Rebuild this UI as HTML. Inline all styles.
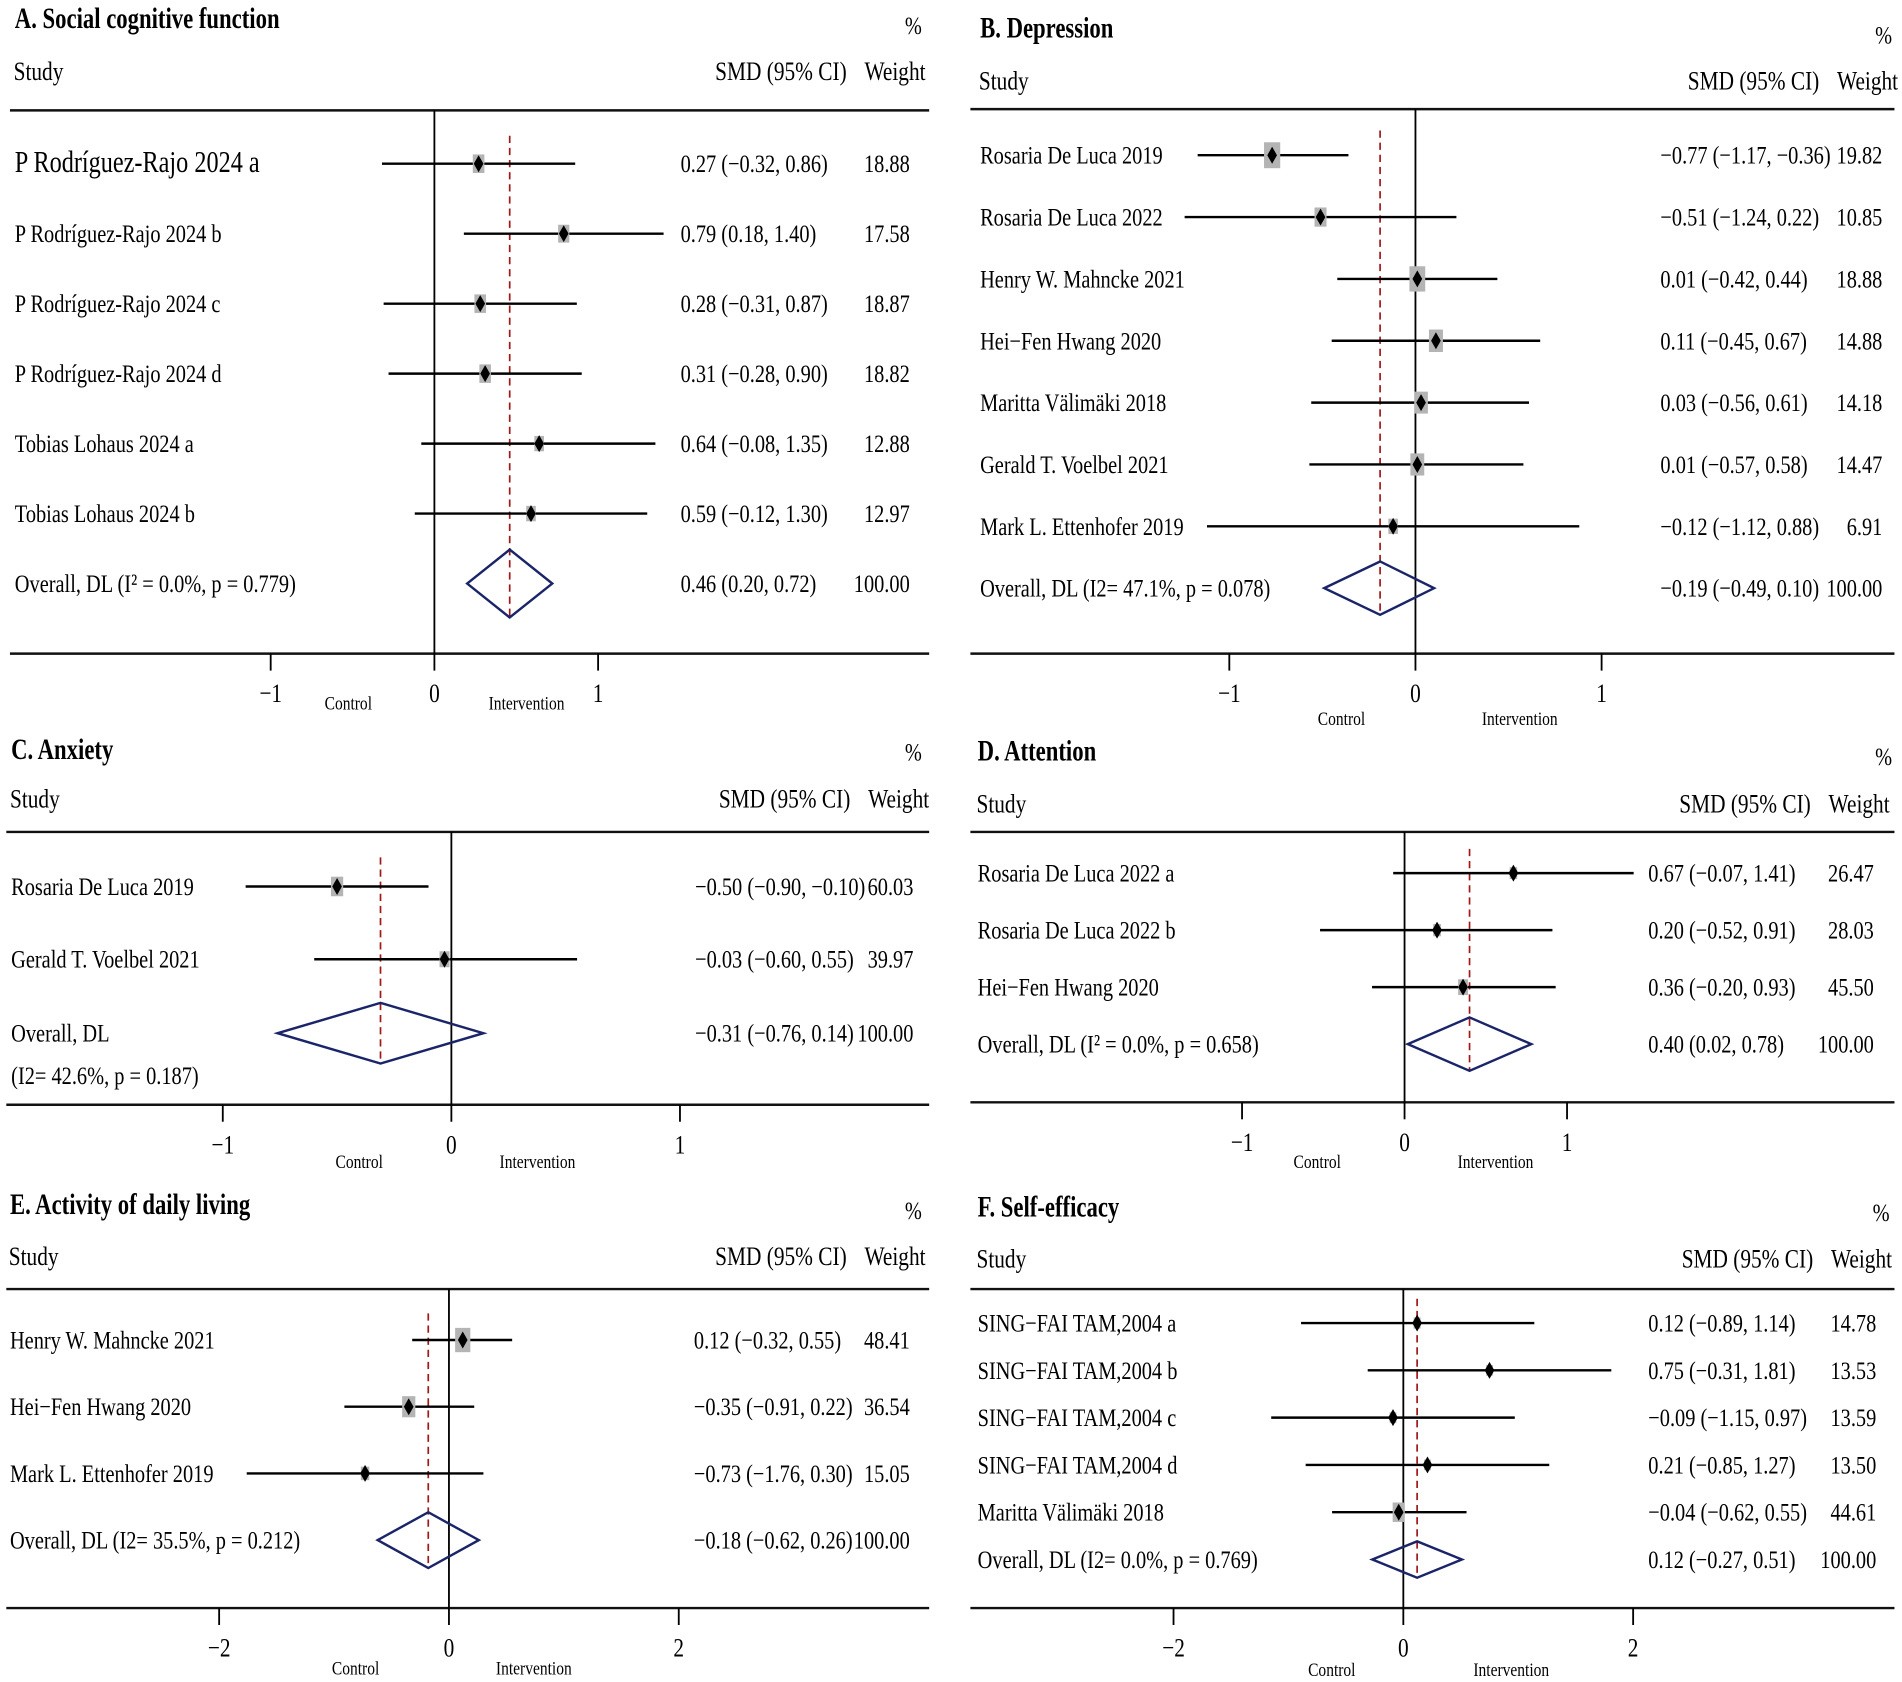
<!DOCTYPE html>
<html><head><meta charset="utf-8">
<style>
html,body{margin:0;padding:0;background:#fff;}
svg{display:block;}
text{font-family:"Liberation Serif",serif;fill:#000;}
</style></head>
<body>
<svg id="chart" width="1902" height="1682" viewBox="0 0 1568 1387" xmlns="http://www.w3.org/2000/svg"></svg>
<script>
// Panel A data
const aNames = ["P Rodríguez-Rajo 2024 a","P Rodríguez-Rajo 2024 b","P Rodríguez-Rajo 2024 c","P Rodríguez-Rajo 2024 d","Tobias Lohaus 2024 a","Tobias Lohaus 2024 b"];
const aEst = [0.27,0.79,0.28,0.31,0.64,0.59];
const aLo = [-0.32,0.18,-0.31,-0.28,-0.08,-0.12];
const aHi = [0.86,1.40,0.87,0.90,1.35,1.30];
const aW = [18.88,17.58,18.87,18.82,12.88,12.97];
const aOverall = [0.46,0.20,0.72];
const aTicks = [-1,0,1];
// Panel B data
const bNames = ["Rosaria De Luca 2019","Rosaria De Luca 2022","Henry W. Mahncke 2021","Hei−Fen Hwang 2020","Maritta Välimäki 2018","Gerald T. Voelbel 2021","Mark L. Ettenhofer 2019"];
const bEst = [-0.77,-0.51,0.01,0.11,0.03,0.01,-0.12];
const bLo = [-1.17,-1.24,-0.42,-0.45,-0.56,-0.57,-1.12];
const bHi = [-0.36,0.22,0.44,0.67,0.61,0.58,0.88];
const bW = [19.82,10.85,18.88,14.88,14.18,14.47,6.91];
const bOverall = [-0.19,-0.49,0.10];
const bTicks = [-1,0,1];
// Panel C data
const cNames = ["Rosaria De Luca 2019","Gerald T. Voelbel 2021"];
const cEst = [-0.50,-0.03];
const cLo = [-0.90,-0.60];
const cHi = [-0.10,0.55];
const cW = [60.03,39.97];
const cOverall = [-0.31,-0.76,0.14];
const cTicks = [-1,0,1];
// Panel D data
const dNames = ["Rosaria De Luca 2022 a","Rosaria De Luca 2022 b","Hei−Fen Hwang 2020"];
const dEst = [0.67,0.20,0.36];
const dLo = [-0.07,-0.52,-0.20];
const dHi = [1.41,0.91,0.93];
const dW = [26.47,28.03,45.50];
const dOverall = [0.40,0.02,0.78];
const dTicks = [-1,0,1];
// Panel E data
const eNames = ["Henry W. Mahncke 2021","Hei−Fen Hwang 2020","Mark L. Ettenhofer 2019"];
const eEst = [0.12,-0.35,-0.73];
const eLo = [-0.32,-0.91,-1.76];
const eHi = [0.55,0.22,0.30];
const eW = [48.41,36.54,15.05];
const eOverall = [-0.18,-0.62,0.26];
const eTicks = [-2,0,2];
// Panel F data
const fNames = ["SING−FAI TAM,2004 a","SING−FAI TAM,2004 b","SING−FAI TAM,2004 c","SING−FAI TAM,2004 d","Maritta Välimäki 2018"];
const fEst = [0.12,0.75,-0.09,0.21,-0.04];
const fLo = [-0.89,-0.31,-1.15,-0.85,-0.62];
const fHi = [1.14,1.81,0.97,1.27,0.55];
const fW = [14.78,13.53,13.59,13.50,44.61];
const fOverall = [0.12,-0.27,0.51];
const fTicks = [-2,0,2];

const NS = "http://www.w3.org/2000/svg";
const svg = document.getElementById('chart');
function mk(tag, attrs, parent){const e=document.createElementNS(NS,tag);for(const k in attrs)e.setAttribute(k,attrs[k]);(parent||svg).appendChild(e);return e;}
function txt(str,x,y,size,opts,parent){
  opts=opts||{};
  const t=mk('text',{transform:`translate(${x},${y}) scale(${opts.sx||0.8},1)`,'font-size':size,'text-anchor':opts.anchor||'start','font-weight':opts.bold?'bold':'normal'},parent);
  t.textContent=str;return t;
}
function fmt(v){return (v<0?'−':'')+Math.abs(v).toFixed(2);}

const panels = [
 {key:'a',title:'A. Social cognitive function',names:aNames,est:aEst,lo:aLo,hi:aHi,w:aW,ov:aOverall,ticks:aTicks,
  x0:8,x1:766,tx:12,titleY:23,pctX:760,pctY:28,studyY:66,topY:91,botY:539,zero:358,unit:135,rowY:135,rowStep:57.7,
  ovLabel:['Overall, DL (I² = 0.0%, p = 0.779)'],effX:561,wtX:750,k:2.2,dh:28,ctrlX:287,intX:434,ciY:585,firstBig:true},
 {key:'b',title:'B. Depression',names:bNames,est:bEst,lo:bLo,hi:bHi,w:bW,ov:bOverall,ticks:bTicks,
  x0:800,x1:1562,tx:808,titleY:31,pctX:1560,pctY:36,studyY:74,topY:90,botY:539,zero:1167,unit:153.5,rowY:128,rowStep:51,
  ovLabel:['Overall, DL (I2= 47.1%, p = 0.078)'],effX:1369,wtX:1552,k:3,dh:22,ctrlX:1106,intX:1253,ciY:598},
 {key:'c',title:'C. Anxiety',names:cNames,est:cEst,lo:cLo,hi:cHi,w:cW,ov:cOverall,ticks:cTicks,
  x0:5,x1:766,tx:9,titleY:626,pctX:760,pctY:627,studyY:666,topY:686,botY:911,zero:372,unit:188.5,rowY:731,rowStep:60,
  ovLabel:['Overall, DL','(I2= 42.6%, p = 0.187)'],effX:573,wtX:753,k:1.3,dh:25,ctrlX:296,intX:443,ciY:963,ovY:852},
 {key:'d',title:'D. Attention',names:dNames,est:dEst,lo:dLo,hi:dHi,w:dW,ov:dOverall,ticks:dTicks,
  x0:800,x1:1562,tx:806,titleY:627,pctX:1560,pctY:631,studyY:670,topY:686,botY:909,zero:1158,unit:134,rowY:720,rowStep:47,
  ovLabel:['Overall, DL (I² = 0.0%, p = 0.658)'],effX:1359,wtX:1545,k:1.2,dh:22,ctrlX:1086,intX:1233,ciY:963},
 {key:'e',title:'E. Activity of daily living',names:eNames,est:eEst,lo:eLo,hi:eHi,w:eW,ov:eOverall,ticks:eTicks,
  x0:5,x1:766,tx:8,titleY:1001,pctX:760,pctY:1005,studyY:1043,topY:1063,botY:1326,zero:370,unit:94.75,rowY:1105,rowStep:55,
  ovLabel:['Overall, DL (I2= 35.5%, p = 0.212)'],effX:572,wtX:750,k:1.8,dh:23,ctrlX:293,intX:440,ciY:1381},
 {key:'f',title:'F. Self-efficacy',names:fNames,est:fEst,lo:fLo,hi:fHi,w:fW,ov:fOverall,ticks:fTicks,
  x0:800,x1:1562,tx:806,titleY:1003,pctX:1558,pctY:1007,studyY:1045,topY:1063,botY:1326,zero:1157,unit:94.75,rowY:1091,rowStep:39,
  ovLabel:['Overall, DL (I2= 0.0%, p = 0.769)'],effX:1359,wtX:1547,k:1.5,dh:15,ctrlX:1098,intX:1246,ciY:1382}
];

panels.forEach(p=>{
  const g=mk('g',{});
  
  
  const X=v=>p.zero+v*p.unit;
  const t1=txt(p.title,p.tx,p.titleY,24,{bold:true,sx:0.78},g);
  
  
  txt('%',p.pctX,p.pctY,21,{anchor:'end'},g);
  txt('Study',p.tx-1,p.studyY,22,{},g);
  txt('SMD (95% CI)',p.wtX-52,p.studyY,22,{anchor:'end'},g);
  txt('Weight',p.wtX+13,p.studyY,22,{anchor:'end'},g);
  mk('line',{x1:p.x0,x2:p.x1,y1:p.topY,y2:p.topY,stroke:'#111','stroke-width':2},g);
  mk('line',{x1:p.x0,x2:p.x1,y1:p.botY,y2:p.botY,stroke:'#111','stroke-width':2},g);
  mk('line',{x1:X(0),x2:X(0),y1:p.topY,y2:p.botY,stroke:'#000','stroke-width':1.5},g);
  const n=p.names.length;
  const ovY=p.ovY||(p.rowY+n*p.rowStep);
  const rowTop=p.rowY-p.rowStep*0.4;
  const red=mk('line',{x1:X(p.ov[0]),x2:X(p.ov[0]),y1:Math.min(rowTop,p.rowY-20),y2:ovY+p.dh,stroke:'#a01818','stroke-width':1.4,'stroke-dasharray':'6,4'},g);
  
  
  for(let i=0;i<n;i++){
    const y=p.rowY+i*p.rowStep;
    txt(p.names[i],p.tx,y+7,(p.firstBig&&i===0)?25:21,{},g);
    const ci=mk('line',{x1:X(p.lo[i]),x2:X(p.hi[i]),y1:y,y2:y,stroke:'#000','stroke-width':2},g);
    
    
    const bw=p.k*Math.sqrt(p.w[i]), bh=bw*1.6;
    const box=mk('rect',{x:X(p.est[i])-bw/2,y:y-bh/2,width:bw,height:bh,fill:'#b4b4b4'},g);
    
    
    const xe=X(p.est[i]);
    mk('polygon',{points:`${xe-4},${y} ${xe},${y-7} ${xe+4},${y} ${xe},${y+7}`,fill:'#000'},g);
    txt(`${fmt(p.est[i])} (${fmt(p.lo[i])}, ${fmt(p.hi[i])})`,p.effX,y+7,21,{},g);
    txt(p.w[i].toFixed(2),p.wtX,y+7,21,{anchor:'end'},g);
  }
  // overall
  if(p.ovLabel.length===1){txt(p.ovLabel[0],p.tx,ovY+7,21,{},g);}
  else{txt(p.ovLabel[0],p.tx,ovY+7,21,{},g);txt(p.ovLabel[1],p.tx,ovY+42,21,{},g);}
  const dm=mk('polygon',{points:`${X(p.ov[1])},${ovY} ${X(p.ov[0])},${ovY-p.dh} ${X(p.ov[2])},${ovY} ${X(p.ov[0])},${ovY+p.dh}`,fill:'none',stroke:'#1a2468','stroke-width':2},g);
  
  
  txt(`${fmt(p.ov[0])} (${fmt(p.ov[1])}, ${fmt(p.ov[2])})`,p.effX,ovY+7,21,{},g);
  txt('100.00',p.wtX,ovY+7,21,{anchor:'end'},g);
  // ticks
  p.ticks.forEach(tv=>{
    mk('line',{x1:X(tv),x2:X(tv),y1:p.botY,y2:p.botY+14,stroke:'#000','stroke-width':1.5},g);
    const tl=txt(tv<0?'−'+Math.abs(tv):String(tv),X(tv),p.botY+40,22,{anchor:'middle'},g);
    
    
  });
  txt('Control',p.ctrlX,p.ciY,16,{anchor:'middle'},g);
  txt('Intervention',p.intX,p.ciY,16,{anchor:'middle'},g);
});
</script>
</body></html>
